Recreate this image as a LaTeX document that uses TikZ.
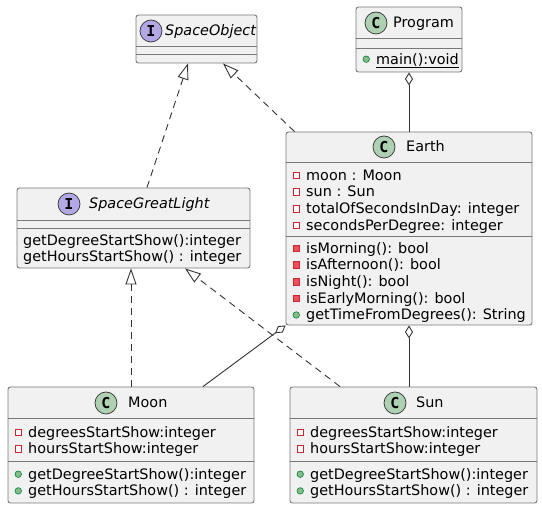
\documentclass[tikz,border=0pt]{standalone}
\usepackage{fontspec}
\setmainfont{DejaVu Sans}[ItalicFont={DejaVu Sans Oblique}, BoldFont={DejaVu Sans Bold}]
\newfontfamily\badgefont{DejaVu Sans Mono}[BoldFont={DejaVu Sans Mono Bold}]
\usepackage{xcolor}
\usepackage{tikz}
\usetikzlibrary{arrows.meta, positioning}
\definecolor{boxfill}{HTML}{F1F1F1}
\definecolor{boxline}{RGB}{120,120,120}
\definecolor{lineclr}{RGB}{50,50,50}
\definecolor{classfill}{HTML}{ADD1B2}
\definecolor{ifacefill}{HTML}{B4A7E5}
\definecolor{privred}{HTML}{C82930}
\definecolor{privfill}{HTML}{F24D5C}
\definecolor{pubgreen}{HTML}{038048}
\definecolor{pubfill}{HTML}{84BE84}
\newcommand{\umlfont}{\fontsize{14.4pt}{16.3pt}\selectfont}
\newcommand{\vfield}{\tikz[baseline=0pt]\draw[privred, line width=0.6pt, fill=white] (0pt,1.75pt) rectangle (6.5pt,8.25pt);\hspace{6.4pt}}
\newcommand{\vmeth}{\tikz[baseline=0pt]\draw[privred, line width=0.6pt, fill=privfill] (0pt,1.75pt) rectangle (6.5pt,8.25pt);\hspace{6.4pt}}
\newcommand{\vpub}{\tikz[baseline=0pt]\draw[pubgreen, line width=0.6pt, fill=pubfill] (3.25pt,5pt) circle[radius=3.25pt];\hspace{6.4pt}}
\tikzstyle{classbox} = [rectangle, rounded corners=2.5pt, draw=boxline, fill=boxfill, line width=0.9pt, inner sep=0pt]
\tikzstyle{badge} = [circle, draw=lineclr, line width=0.7pt, minimum size=22pt, inner sep=0pt, font=\badgefont\bfseries\fontsize{15pt}{15pt}\selectfont]
\tikzstyle{classname} = [anchor=base west, inner sep=0pt, font=\umlfont]
\tikzstyle{member} = [anchor=north west, inner sep=0pt, text height=12.3pt, text depth=4pt, font=\umlfont]
\tikzstyle{sepline} = [draw=boxline, line width=0.9pt]
\tikzstyle{realize} = [draw=lineclr, line width=0.9pt, dash pattern=on 7pt off 5pt, -{Triangle[open, length=16pt, width=11pt]}]
\tikzstyle{aggregate} = [draw=lineclr, line width=0.9pt, {Diamond[open, length=13pt, width=8pt]}-]

\begin{document}
\begin{tikzpicture}[x=1pt, y=-1pt]
\useasboundingbox (0,0) rectangle (542,505);

% ===== INTERFACES =====
\node (spaceobj) [classbox, minimum width=121pt, minimum height=48pt] at (196.5,39) {};
\draw [sepline] ([yshift=-32pt]spaceobj.north west) -- ([yshift=-32pt]spaceobj.north east);
\draw [sepline] ([yshift=-40pt]spaceobj.north west) -- ([yshift=-40pt]spaceobj.north east);
\node (spaceobjBadge) [badge, fill=ifacefill] at (151,31) {I};
\node (spaceobjName) [classname] at (165,36) {\itshape SpaceObject};

\node (sgl) [classbox, minimum width=233pt, minimum height=80pt] at (133.5,228) {};
\draw [sepline] ([yshift=-33pt]sgl.north west) -- ([yshift=-33pt]sgl.north east);
\draw [sepline] ([yshift=-41pt]sgl.north west) -- ([yshift=-41pt]sgl.north east);
\node (sglBadge) [badge, fill=ifacefill] at (69,204) {I};
\node (sglName) [classname] at (89,209) {\itshape SpaceGreatLight};
\node (sglM1) [member] at (23,232.7) {getDegreeStartShow():integer};
\node (sglM2) [below=0pt of sglM1.south west, member] {getHoursStartShow() : integer};

% ===== PROGRAM =====
\node (program) [classbox, minimum width=106pt, minimum height=65pt] at (409,39.5) {};
\draw [sepline] ([yshift=-32pt]program.north west) -- ([yshift=-32pt]program.north east);
\draw [sepline] ([yshift=-42pt]program.north west) -- ([yshift=-42pt]program.north east);
\node (programBadge) [badge, fill=classfill] at (376,23) {C};
\node (programName) [classname] at (393,28) {Program};
\node (programM1) [member] at (362.5,51.7) {\vpub\underline{main():void}};

% ===== EARTH =====
\node (earth) [classbox, minimum width=246pt, minimum height=193pt] at (409,228.5) {};
\draw [sepline] ([yshift=-31pt]earth.north west) -- ([yshift=-31pt]earth.north east);
\draw [sepline] ([yshift=-105pt]earth.north west) -- ([yshift=-105pt]earth.north east);
\node (earthBadge) [badge, fill=classfill] at (384,147) {C};
\node (earthName) [classname] at (406,152) {Earth};
\node (earthF1) [member] at (292.5,167.7) {\vfield moon : Moon};
\node (earthF2) [below=0pt of earthF1.south west, member] {\vfield sun : Sun};
\node (earthF3) [below=0pt of earthF2.south west, member] {\vfield totalOfSecondsInDay: integer};
\node (earthF4) [below=0pt of earthF3.south west, member] {\vfield secondsPerDegree: integer};
\node (earthM1) [member] at (292.5,240.7) {\vmeth isMorning(): bool};
\node (earthM2) [below=0pt of earthM1.south west, member] {\vmeth isAfternoon(): bool};
\node (earthM3) [below=0pt of earthM2.south west, member] {\vmeth isNight(): bool};
\node (earthM4) [below=0pt of earthM3.south west, member] {\vmeth isEarlyMorning(): bool};
\node (earthM5) [below=0pt of earthM4.south west, member] {\vpub getTimeFromDegrees(): String};

% ===== MOON / SUN =====
\node (moon) [classbox, minimum width=246pt, minimum height=116pt] at (131,445) {};
\draw [sepline] ([yshift=-32pt]moon.north west) -- ([yshift=-32pt]moon.north east);
\draw [sepline] ([yshift=-75pt]moon.north west) -- ([yshift=-75pt]moon.north east);
\node (moonBadge) [badge, fill=classfill] at (106,403) {C};
\node (moonName) [classname] at (128,408) {Moon};
\node (moonF1) [member] at (14.5,424.7) {\vfield degreesStartShow:integer};
\node (moonF2) [below=0pt of moonF1.south west, member] {\vfield hoursStartShow:integer};
\node (moonM1) [member] at (14.5,466.7) {\vpub getDegreeStartShow():integer};
\node (moonM2) [below=0pt of moonM1.south west, member] {\vpub getHoursStartShow() : integer};

\node (sun) [classbox, minimum width=247pt, minimum height=116pt] at (413.5,445) {};
\draw [sepline] ([yshift=-32pt]sun.north west) -- ([yshift=-32pt]sun.north east);
\draw [sepline] ([yshift=-75pt]sun.north west) -- ([yshift=-75pt]sun.north east);
\node (sunBadge) [badge, fill=classfill] at (395,403) {C};
\node (sunName) [classname] at (416,408) {Sun};
\node (sunF1) [member] at (296.5,424.7) {\vfield degreesStartShow:integer};
\node (sunF2) [below=0pt of sunF1.south west, member] {\vfield hoursStartShow:integer};
\node (sunM1) [member] at (296.5,466.7) {\vpub getDegreeStartShow():integer};
\node (sunM2) [below=0pt of sunM1.south west, member] {\vpub getHoursStartShow() : integer};

% ===== RELATIONS =====
\draw [realize] ([xshift=13.5pt]sgl.north) -- ([xshift=-8.5pt]spaceobj.south);
\draw [realize] ([xshift=9pt]earth.north west) -- ([xshift=26.5pt]spaceobj.south);
\draw [realize] (moon.north) -- (moon.north |- sgl.south);
\draw [realize] ([xshift=-73.5pt]sun.north) -- ([xshift=51.5pt]sgl.south);
\draw [aggregate] (program.south) -- (program.south |- earth.north);
\draw [aggregate] (earth.south west) -- ([xshift=72pt]moon.north);
\draw [aggregate] (earth.south) -- (earth.south |- sun.north);

\end{tikzpicture}
\end{document}
